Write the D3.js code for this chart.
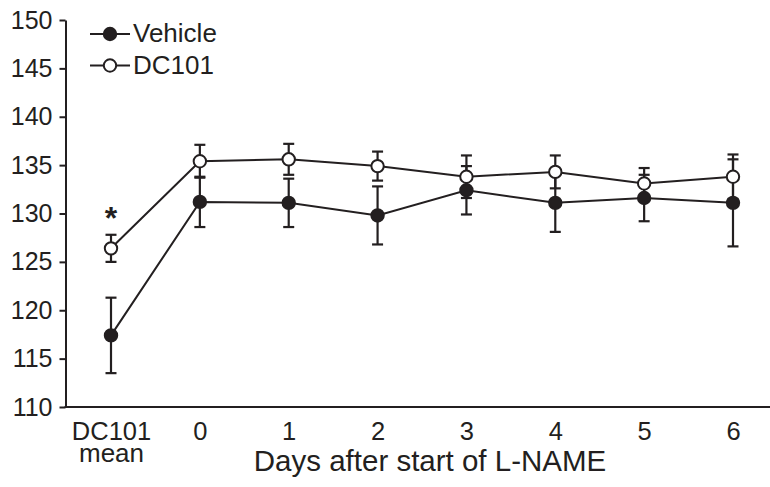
<!DOCTYPE html>
<html>
<head>
<meta charset="utf-8">
<script src="https://cdn.jsdelivr.net/npm/d3@7"></script>
<style>
  body { margin: 0; background: #fff; }
  svg { display: block; font-family: "Liberation Sans", Arial, sans-serif; }
  .axis path, .axis line { stroke: #231f20; stroke-width: 2; }
  .axis text { fill: #231f20; }
</style>
</head>
<body>
<script>
// chart data
const categories = ["DC101 mean", "0", "1", "2", "3", "4", "5", "6"];
const yTicks = [110, 115, 120, 125, 130, 135, 140, 145, 150];

const vehicleMean = [117.4, 131.2, 131.1, 129.8, 132.4, 131.1, 131.6, 131.1];
const vehicleSem  = [3.9, 2.6, 2.5, 3.0, 2.5, 3.0, 2.4, 4.5];
const dc101Mean   = [126.4, 135.4, 135.6, 134.9, 133.8, 134.3, 133.1, 133.8];
const dc101Sem    = [1.4, 1.7, 1.6, 1.5, 2.2, 1.7, 1.6, 2.3];

const seriesNames = ["Vehicle", "DC101"];

const svgWidth = 770;
const svgHeight = 487;
const ink = "#231f20";

const svg = d3.select("body")
              .append("svg")
              .attr("width", svgWidth)
              .attr("height", svgHeight);

const x = d3.scalePoint()
            .domain(categories)
            .range([111, 733]);

const y = d3.scaleLinear()
            .domain([110, 150])
            .range([407, 20]);

const plotLeft = 65.5;

// y axis
const yAxis = svg.append("g")
                 .attr("class", "axis")
                 .attr("transform", `translate(${plotLeft},0)`)
                 .call(d3.axisLeft(y)
                         .tickValues(yTicks)
                         .tickSize(6)
                         .tickSizeOuter(0)
                         .tickPadding(7));
yAxis.selectAll("text")
     .attr("font-size", 25)
     .attr("font-family", "Liberation Sans, Arial, sans-serif");

// x axis line runs to the right edge
svg.append("line")
   .attr("x1", plotLeft - 1)
   .attr("x2", svgWidth)
   .attr("y1", y(110))
   .attr("y2", y(110))
   .attr("stroke", ink)
   .attr("stroke-width", 2);

const xAxis = svg.append("g")
                 .attr("class", "axis")
                 .attr("transform", `translate(0,${y(110)})`)
                 .call(d3.axisBottom(x).tickSize(0).tickPadding(0));
xAxis.select(".domain").remove();
xAxis.selectAll("text").remove();
xAxis.selectAll(".tick").each(function(d) {
    const t = d3.select(this).append("text")
                .attr("fill", ink)
                .attr("font-family", "Liberation Sans, Arial, sans-serif")
                .attr("text-anchor", "middle")
                .attr("y", 32.5);
    const parts = d.split(" ");
    parts.forEach((p, i) => {
        t.append("tspan")
         .attr("x", 0)
         .attr("dy", i === 0 ? 0 : 22.5)
         .attr("font-size", i === 0 ? 25.5 : 26)
         .text(p);
    });
});

svg.append("text")
   .attr("x", 430)
   .attr("y", 471)
   .attr("text-anchor", "middle")
   .attr("font-size", 29.5)
   .attr("fill", ink)
   .text("Days after start of L-NAME");

// series
const series = [
    { name: seriesNames[1], mean: dc101Mean, sem: dc101Sem, fill: "#fff" },
    { name: seriesNames[0], mean: vehicleMean, sem: vehicleSem, fill: ink }
];

const line = d3.line()
               .x((d, i) => x(categories[i]))
               .y(d => y(d));

series.forEach(s => {
    svg.append("path")
       .datum(s.mean)
       .attr("d", line)
       .attr("fill", "none")
       .attr("stroke", ink)
       .attr("stroke-width", 2);
});

series.forEach(s => {
    const g = svg.append("g").attr("class", "errors");
    s.mean.forEach((m, i) => {
        const cx = x(categories[i]);
        const top = y(m + s.sem[i]);
        const bot = y(m - s.sem[i]);
        g.append("line")
         .attr("x1", cx).attr("x2", cx)
         .attr("y1", top).attr("y2", bot)
         .attr("stroke", ink).attr("stroke-width", 2.2);
        [top, bot].forEach(cy => {
            g.append("line")
             .attr("x1", cx - 5.5).attr("x2", cx + 5.5)
             .attr("y1", cy).attr("y2", cy)
             .attr("stroke", ink).attr("stroke-width", 2.2);
        });
    });
});

series.forEach(s => {
    svg.append("g")
       .selectAll("circle")
       .data(s.mean)
       .enter()
       .append("circle")
       .attr("cx", (d, i) => x(categories[i]))
       .attr("cy", d => y(d))
       .attr("r", 6.2)
       .attr("fill", s.fill)
       .attr("stroke", ink)
       .attr("stroke-width", 2);
});

// significance mark
svg.append("text")
   .attr("x", x(categories[0]))
   .attr("y", 229)
   .attr("text-anchor", "middle")
   .attr("font-size", 32)
   .attr("font-weight", "bold")
   .attr("fill", ink)
   .text("*");

// legend
const legend = svg.append("g").attr("id", "legend");
const legendItems = [
    { name: seriesNames[0], fill: ink, y: 34 },
    { name: seriesNames[1], fill: "#fff", y: 65.5 }
];
legendItems.forEach(item => {
    legend.append("line")
          .attr("x1", 90).attr("x2", 130)
          .attr("y1", item.y).attr("y2", item.y)
          .attr("stroke", ink).attr("stroke-width", 2);
    legend.append("circle")
          .attr("cx", 110).attr("cy", item.y).attr("r", 6.2)
          .attr("fill", item.fill)
          .attr("stroke", ink).attr("stroke-width", 2);
    legend.append("text")
          .attr("x", 133)
          .attr("y", item.y + 8)
          .attr("font-size", 26)
          .attr("fill", ink)
          .text(item.name);
});
</script>
</body>
</html>
